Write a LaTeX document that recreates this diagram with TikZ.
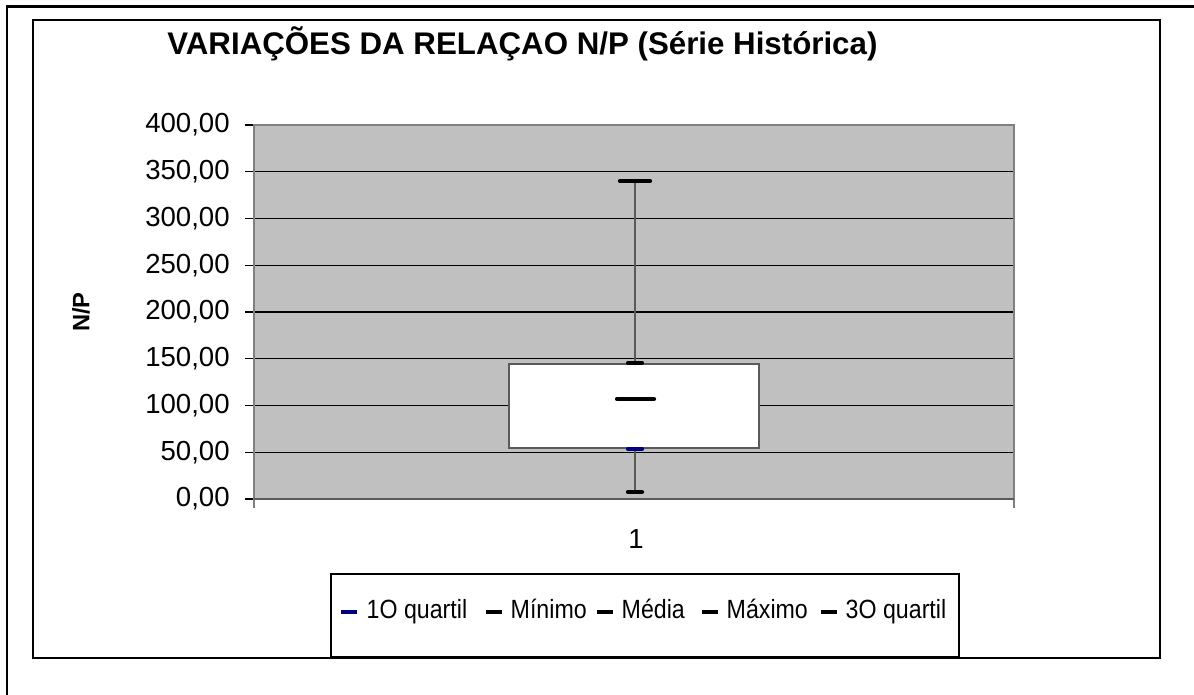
\documentclass[tikz,border=0pt]{standalone}
\usepackage{fontspec}
\setmainfont{Liberation Sans}
\newfontfamily\narrowfont[FakeStretch=0.88]{Liberation Sans}
\usetikzlibrary{positioning}
\definecolor{plotgray}{RGB}{192,192,192}
\definecolor{bordergray}{RGB}{128,128,128}
\definecolor{whiskgray}{RGB}{90,90,90}
\definecolor{quartblue}{RGB}{0,0,128}

\begin{document}
\begin{tikzpicture}[x=0.02cm,y=-0.02cm]
    \tikzstyle{gridline} = [black, line width=0.6pt]
    \tikzstyle{statbar} = [line width=2.4pt, line cap=round]
    \tikzstyle{ylabel} = [anchor=east, inner sep=0pt, font=\fontsize{15.7}{18}\selectfont]
    \tikzstyle{legkey} = [rectangle, inner sep=0pt, minimum width=0.32cm, minimum height=2.3pt]
    \tikzstyle{legtext} = [inner sep=0pt, text height=0.72em, text depth=0pt, font=\narrowfont\fontsize{15}{18}\selectfont]
    \useasboundingbox (0,0) rectangle (1194,695);
    % page and chart frames
    \draw[line width=1.7pt] (7,695) -- (7,7) -- (1194,7);
    \draw[line width=0.9pt] (33,20) rectangle (1160,658);
    \node[anchor=base west, inner sep=0pt, font=\bfseries\fontsize{17.8}{21}\selectfont] (title) at (167,55) {VARIAÇÕES DA RELAÇAO N/P (Série Histórica)};
    % plot area
    \fill[plotgray] (254,125) rectangle (1014,499);
    \foreach \v in {0,50,...,400} {
        \draw[gridline] (245,{499-0.935*\v}) -- (1014,{499-0.935*\v});
        \node[ylabel] (y\v) at (230,{499-0.935*\v}) {\v,00};
    }
    \draw[bordergray, line width=1.3pt] (254,508) -- (254,125) -- (1014,125) -- (1014,508);
    \draw[whiskgray, line width=1pt] (254,499) -- (1014,499);
    \node[rotate=90, font=\bfseries\fontsize{13.5}{16}\selectfont] (ytitle) at (81,312) {N/P};
    \node[font=\fontsize{15.7}{18}\selectfont] (cat) at (636,539) {1};
    % box and whiskers
    \draw[whiskgray, line width=0.9pt] (635,181) -- (635,492);
    \draw[fill=white, draw=whiskgray, line width=0.8pt] (509,364) rectangle (759,448);
    \draw[statbar] (620,181) -- (650,181);
    \draw[statbar] (628,363) -- (642,363);
    \draw[statbar] (617,399) -- (654,399);
    \draw[statbar, quartblue] (628,449) -- (642,449);
    \draw[statbar] (628,492) -- (642,492);
    % legend
    \draw[fill=white, line width=0.6pt] (331,574) rectangle (959,657);
    \node[legkey, fill=quartblue] (k1) at (349,612) {};
    \node[legtext, right=0.18cm of k1] (t1) {1O quartil};
    \node[legkey, fill=black] (k2) at (494,612) {};
    \node[legtext, right=0.16cm of k2] (t2) {Mínimo};
    \node[legkey, fill=black] (k3) at (605,612) {};
    \node[legtext, right=0.16cm of k3] (t3) {Média};
    \node[legkey, fill=black] (k4) at (710,612) {};
    \node[legtext, right=0.16cm of k4] (t4) {Máximo};
    \node[legkey, fill=black] (k5) at (829,612) {};
    \node[legtext, right=0.16cm of k5] (t5) {3O quartil};
\end{tikzpicture}
\end{document}
